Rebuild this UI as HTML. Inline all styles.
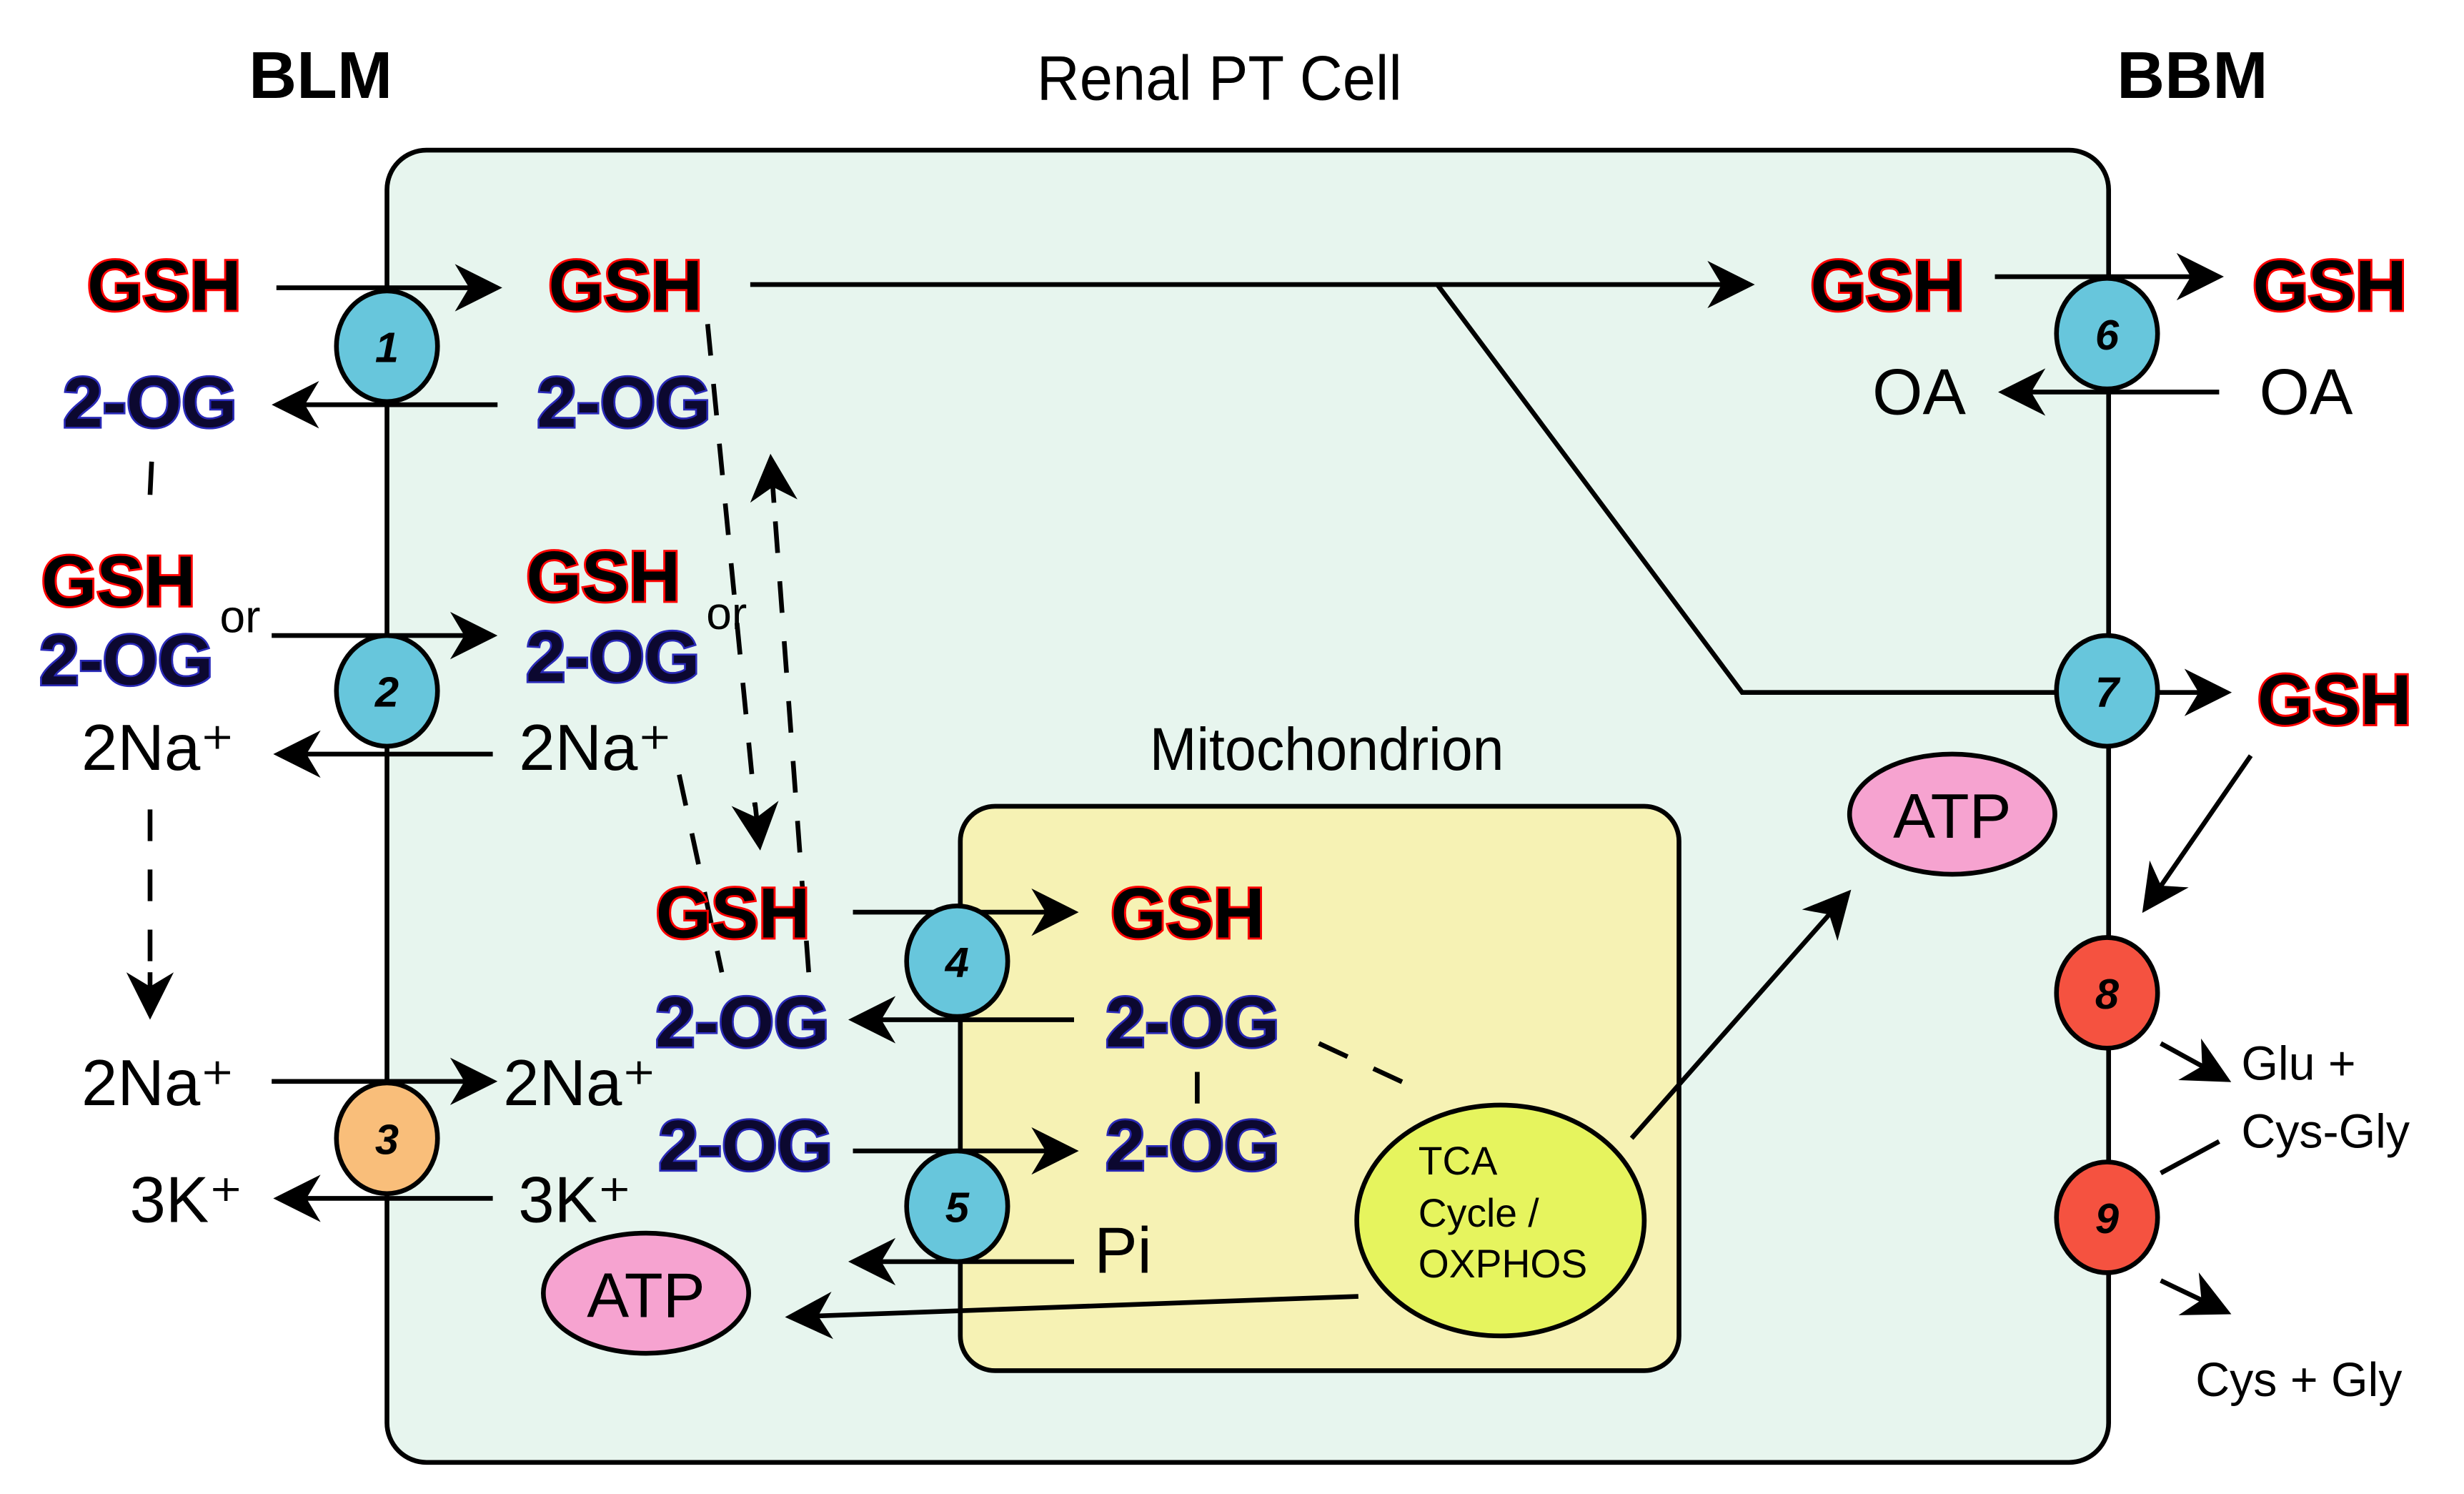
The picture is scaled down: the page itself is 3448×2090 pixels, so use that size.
<!DOCTYPE html>
<html><head><meta charset="utf-8"><style>html,body{margin:0;padding:0;background:#fff}svg{display:block}</style></head>
<body>
<svg width="3448" height="2090" viewBox="0 0 1560 945" preserveAspectRatio="none" xmlns="http://www.w3.org/2000/svg" font-family="Liberation Sans, sans-serif">
<defs>
<marker id="b" viewBox="0 0 10 10" refX="9" refY="5" markerWidth="30" markerHeight="30" markerUnits="userSpaceOnUse" orient="auto"><path d="M0,0 L10,5 L0,10 L3,5 z" fill="#000"/></marker>
<style>
.g{font-weight:bold;font-size:45px;fill:#000;stroke:#f00;stroke-width:2.6;paint-order:stroke;text-anchor:middle}
.o{font-weight:bold;font-size:45px;fill:#0c0830;stroke:#2a2ab8;stroke-width:2.4;paint-order:stroke;text-anchor:middle}
.n{font-size:41px;fill:#000;text-anchor:middle}
.ln{stroke:#000;stroke-width:3;fill:none}
.ar{stroke:#000;stroke-width:3;fill:none;marker-end:url(#b)}
.d{stroke:#000;stroke-width:3;fill:none;stroke-dasharray:20 18}
.num{font-weight:bold;font-style:italic;font-size:27px;text-anchor:middle;fill:#000}
</style>
</defs>
<text x="203" y="62" font-size="42" font-weight="bold" text-anchor="middle">BLM</text>
<text x="772" y="63" font-size="40" text-anchor="middle" transform="translate(772 0) scale(0.94 1) translate(-772 0)">Renal PT Cell</text>
<text x="1388" y="62" font-size="42" font-weight="bold" text-anchor="middle">BBM</text>
<rect x="245" y="95" width="1090" height="830" rx="25" fill="#e7f5ee" stroke="#000" stroke-width="3"/>
<rect x="608" y="510" width="455" height="357" rx="22" fill="#f6f2b4" stroke="#000" stroke-width="3"/>
<text x="840" y="487" font-size="38" text-anchor="middle" transform="translate(840 0) scale(0.94 1) translate(-840 0)">Mitochondrion</text>

<line class="ar" x1="175" y1="182" x2="315" y2="182"/>
<line class="ar" x1="315" y1="256" x2="175" y2="256"/>
<line class="ar" x1="172" y1="402" x2="312" y2="402"/>
<line class="ar" x1="312" y1="477" x2="176" y2="477"/>
<line class="ar" x1="172" y1="684" x2="312" y2="684"/>
<line class="ar" x1="312" y1="758" x2="176" y2="758"/>
<line class="ar" x1="540" y1="577" x2="680" y2="577"/>
<line class="ar" x1="680" y1="645" x2="540" y2="645"/>
<line class="ar" x1="540" y1="728" x2="680" y2="728"/>
<line class="ar" x1="680" y1="798" x2="540" y2="798"/>
<line class="ar" x1="475" y1="180" x2="1108" y2="180"/>
<polyline class="ln" points="910,180 1103,438 1334,438"/>
<line class="ar" x1="1334" y1="438" x2="1410" y2="438"/>
<line class="ar" x1="1263" y1="175" x2="1405" y2="175"/>
<line class="ar" x1="1405" y1="248" x2="1268" y2="248"/>
<line class="ar" x1="1425" y1="478" x2="1358" y2="575"/>
<line class="ar" x1="1368" y1="660" x2="1410" y2="683"/>
<line class="ar" x1="1368" y1="810" x2="1410" y2="830"/>
<line class="ln" x1="1368" y1="742" x2="1405" y2="722"/>
<line class="ar" x1="860" y1="820" x2="500" y2="833"/>
<line class="ar" x1="1033" y1="720" x2="1170" y2="565"/>
<line class="ln" x1="758" y1="678" x2="758" y2="698"/>
<line class="ln" x1="96" y1="292" x2="95" y2="313"/>
<line class="d" x1="95" y1="512" x2="95" y2="620" />
<line class="ar" x1="95" y1="615" x2="95" y2="642"/>
<line class="d" x1="448" y1="205" x2="478" y2="510"/>
<line class="ar" x1="478" y1="508" x2="481" y2="535"/>
<line class="d" x1="512" y1="615" x2="490" y2="318"/>
<line class="ar" x1="490" y1="318" x2="488" y2="290"/>
<line class="d" x1="430" y1="490" x2="457" y2="615"/>
<line class="d" x1="835" y1="660" x2="900" y2="690"/>

<g stroke="#000" stroke-width="3">
<ellipse cx="245" cy="219" rx="32" ry="35" fill="#67c6dc"/>
<ellipse cx="245" cy="437" rx="32" ry="35" fill="#67c6dc"/>
<ellipse cx="245" cy="720" rx="32" ry="35" fill="#f9be7a"/>
<ellipse cx="606" cy="608" rx="32" ry="35" fill="#67c6dc"/>
<ellipse cx="606" cy="763" rx="32" ry="35" fill="#67c6dc"/>
<ellipse cx="1334" cy="211" rx="32" ry="35" fill="#67c6dc"/>
<ellipse cx="1334" cy="437" rx="32" ry="35" fill="#67c6dc"/>
<ellipse cx="1334" cy="628" rx="32" ry="35" fill="#f55240"/>
<ellipse cx="1334" cy="770" rx="32" ry="35" fill="#f55240"/>
<ellipse cx="409" cy="818" rx="65" ry="38" fill="#f6a3d0"/>
<ellipse cx="1236" cy="515" rx="65" ry="38" fill="#f6a3d0"/>
<ellipse cx="950" cy="772" rx="91" ry="73" fill="#e6f45e"/>
</g>
<text class="num" x="245" y="229">1</text>
<text class="num" x="245" y="447">2</text>
<text class="num" x="245" y="730">3</text>
<text class="num" x="606" y="618">4</text>
<text class="num" x="606" y="773">5</text>
<text class="num" x="1334" y="221">6</text>
<text class="num" x="1334" y="447">7</text>
<text class="num" x="1334" y="638">8</text>
<text class="num" x="1334" y="780">9</text>

<text class="g" x="104" y="196">GSH</text>
<text class="o" x="95" y="270">2-OG</text>
<text class="g" x="75" y="383">GSH</text>
<text class="o" x="80" y="433">2-OG</text>
<text x="152" y="400" font-size="29" text-anchor="middle">or</text>
<text class="n" x="100" y="487">2Na⁺</text>
<text class="n" x="100" y="699">2Na⁺</text>
<text class="n" x="118" y="773">3K⁺</text>

<text class="g" x="396" y="196">GSH</text>
<text class="o" x="395" y="270">2-OG</text>
<text class="g" x="382" y="380">GSH</text>
<text class="o" x="388" y="431">2-OG</text>
<text x="460" y="398" font-size="29" text-anchor="middle">or</text>
<text class="n" x="377" y="487">2Na⁺</text>
<text class="n" x="367" y="699">2Na⁺</text>
<text class="n" x="364" y="773">3K⁺</text>
<text class="g" x="464" y="593">GSH</text>
<text class="o" x="470" y="662">2-OG</text>
<text class="o" x="472" y="740">2-OG</text>
<text x="409" y="833" font-size="40" text-anchor="middle">ATP</text>

<text class="g" x="752" y="593">GSH</text>
<text class="o" x="755" y="662">2-OG</text>
<text class="o" x="755" y="740">2-OG</text>
<text class="n" x="711" y="805">Pi</text>
<text x="898" y="743" font-size="25">TCA</text>
<text x="898" y="776" font-size="25">Cycle /</text>
<text x="898" y="808" font-size="25">OXPHOS</text>

<text class="g" x="1195" y="196">GSH</text>
<text class="n" x="1215" y="262">OA</text>
<text class="g" x="1475" y="196">GSH</text>
<text class="n" x="1460" y="262">OA</text>
<text class="g" x="1478" y="458">GSH</text>
<text x="1236" y="530" font-size="40" text-anchor="middle">ATP</text>
<text x="1419" y="683" font-size="30">Glu +</text>
<text x="1419" y="726" font-size="30">Cys-Gly</text>
<text x="1390" y="883" font-size="30">Cys + Gly</text>
</svg>
</body></html>
